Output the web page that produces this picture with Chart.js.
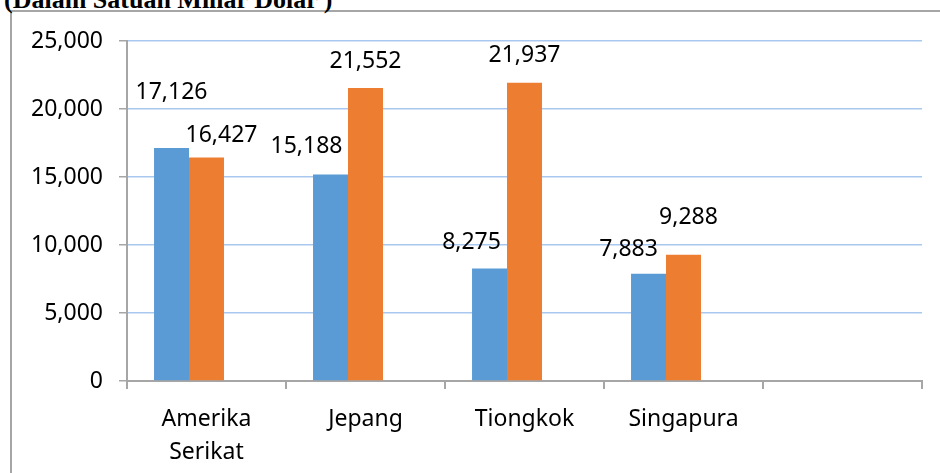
<!DOCTYPE html>
<html>
<head>
<meta charset="utf-8">
<script src="https://cdn.jsdelivr.net/npm/chart.js@4"></script>
<style>
    html, body { margin: 0; padding: 0; background: #fff; }
    #wrap { position: relative; width: 940px; height: 473px; overflow: hidden; }
    #frame {
        position: absolute; left: 10px; top: 10px; width: 960px; height: 500px;
        border-left: 2px solid #a6a6a6; border-top: 2px solid #a6a6a6;
    }
    #title {
        position: absolute; left: 4px; top: -15px; white-space: nowrap;
        font-family: "Liberation Serif", serif; font-weight: bold; font-size: 26px; color: #000;
    }
    #chartBox { position: absolute; left: 0; top: 0; width: 940px; height: 473px; }
</style>
</head>
<body>
<div id="wrap">
    <div id="frame"></div>
    <div id="title">(Dalam Satuan Miliar Dolar )</div>
    <div id="chartBox"><canvas id="gdpChart"></canvas></div>
</div>
<script>
// Data
const categories = [['Amerika', 'Serikat'], 'Jepang', 'Tiongkok', 'Singapura', ''];
const seriesA = [17126, 15188, 8275, 7883, null];
const seriesB = [16427, 21552, 21937, 9288, null];
const seriesC = [null, null, null, null, null]; // empty third series (keeps Excel bar spacing)
const yTicks = [0, 5000, 10000, 15000, 20000, 25000];

// Label nudges (labels were dragged by hand in the original)
const labelShiftX = [[0, -24, -18, -20, 0], [15, 0, 0, 5, 0]];
const labelShiftY = [[-56, -28, -26, -24, 0], [-22, -26, -27, -37, 0]];

const FONT = '"Noto Sans", sans-serif';

const valueLabels = {
    id: 'valueLabels',
    afterDatasetsDraw(chart) {
        const ctx = chart.ctx;
        ctx.save();
        ctx.font = '23px ' + FONT;
        ctx.fillStyle = '#000';
        ctx.textAlign = 'center';
        ctx.textBaseline = 'middle';
        [0, 1].forEach(di => {
            const meta = chart.getDatasetMeta(di);
            meta.data.forEach((bar, i) => {
                const v = chart.data.datasets[di].data[i];
                if (v == null) return;
                ctx.fillText(v.toLocaleString('en-US'),
                    bar.x + labelShiftX[di][i], bar.y + labelShiftY[di][i]);
            });
        });
        ctx.restore();
    }
};

document.addEventListener('DOMContentLoaded', function() {
    const ctx = document.getElementById('gdpChart').getContext('2d');

    new Chart(ctx, {
        type: 'bar',
        data: {
            labels: categories,
            datasets: [
                { label: 'A', data: seriesA, backgroundColor: '#5b9bd5' },
                { label: 'B', data: seriesB, backgroundColor: '#ed7d31' },
                { label: 'C', data: seriesC, backgroundColor: '#a5a5a5' }
            ]
        },
        options: {
            responsive: true,
            maintainAspectRatio: false,
            animation: false,
            layout: { padding: { left: 0, right: 18, top: 41, bottom: 0 } },
            datasets: {
                bar: { categoryPercentage: 0.66, barPercentage: 1.0 }
            },
            plugins: {
                legend: { display: false },
                tooltip: { enabled: false }
            },
            scales: {
                x: {
                    grid: {
                        offset: true,
                        drawOnChartArea: false,
                        drawTicks: true,
                        tickLength: 8,
                        tickColor: '#a6a6a6',
                        lineWidth: 2
                    },
                    border: { color: '#a6a6a6', width: 2 },
                    ticks: {
                        color: '#000',
                        font: { family: FONT, size: 23, lineHeight: 1.43 },
                        padding: 14,
                        maxRotation: 0,
                        autoSkip: false
                    },
                    afterFit: function(scale) { scale.height = 92; }
                },
                y: {
                    min: 0,
                    max: 25000,
                    afterBuildTicks: function(scale) {
                        scale.ticks = yTicks.map(v => ({ value: v }));
                    },
                    grid: {
                        color: ctx => ctx.tick && ctx.tick.value === 0 ? 'rgba(0,0,0,0)' : '#a9c8f0',
                        lineWidth: 1.5,
                        tickLength: 8,
                        tickColor: '#a6a6a6'
                    },
                    border: { color: '#a6a6a6', width: 2 },
                    ticks: {
                        color: '#000',
                        font: { family: FONT, size: 23 },
                        padding: 16,
                        callback: function(value) { return value.toLocaleString('en-US'); }
                    },
                    afterFit: function(scale) { scale.width = 127; }
                }
            }
        },
        plugins: [valueLabels]
    });
});
</script>
</body>
</html>
